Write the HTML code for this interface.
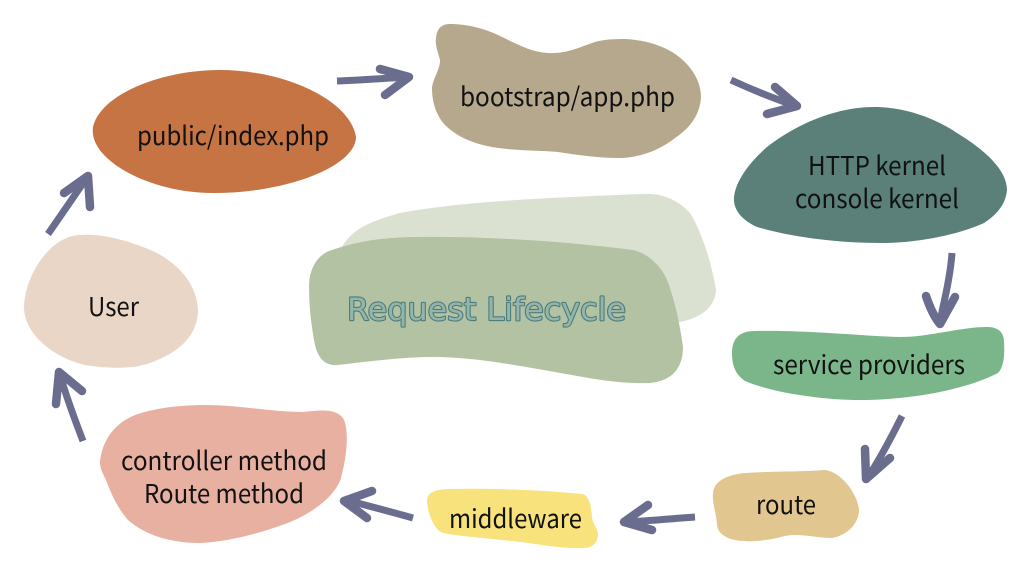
<!DOCTYPE html>
<html>
<head>
<meta charset="utf-8">
<style>
html,body{margin:0;padding:0;background:#fff;width:1024px;height:576px;overflow:hidden}
svg{display:block}
text{font-family:"Noto Sans CJK SC","Liberation Sans",sans-serif;font-size:26px;fill:#111}
.a{fill:none;stroke:#6b6d8f;stroke-width:7;stroke-linecap:butt;stroke-linejoin:round}
.h{fill:none;stroke:#6b6d8f;stroke-width:8.5;stroke-linecap:round;stroke-linejoin:round}
.t1{font-family:"DejaVu Sans","Liberation Sans",sans-serif;font-size:31px;fill:#4f7d7a;stroke:#4f7d7a;stroke-width:2.2px;stroke-linejoin:round}
.t2{font-family:"DejaVu Sans","Liberation Sans",sans-serif;font-size:31px;fill:#93b5ab}
</style>
</head>
<body>
<svg width="1024" height="576" viewBox="0 0 1024 576" xmlns="http://www.w3.org/2000/svg">
<!-- centre blobs -->
<path fill="#dae1d1" d="M342 247C352 228 375 220 400 213C470 200 570 197 643 194C665 193 680 202 690 213C702 232 712 265 716 290C715 308 700 318 680 322L600 300L400 270Z"/>
<path fill="#b3c2a2" d="M309 287C309 268 318 254 332 250C360 240 390 237 417 237C490 236 570 242 633 250C650 254 662 268 667 280C675 300 680 325 683 347C683 368 672 381 650 383C625 384 600 380 583 377C530 368 480 357 433 357C400 357 365 362 337 365C325 366 318 358 315 345C311 325 309 305 309 287Z"/>
<text class="t1" x="347" y="320" textLength="279" lengthAdjust="spacingAndGlyphs">Request Lifecycle</text>
<text class="t2" x="347" y="320" textLength="279" lengthAdjust="spacingAndGlyphs">Request Lifecycle</text>
<!-- public/index.php -->
<path fill="#c77445" d="M93 127C100 95 160 70 220 70C285 70 350 100 356 137C356 165 290 193 213 193C150 193 88 160 93 127Z"/>
<!-- bootstrap -->
<path fill="#b6a88d" d="M436 38C437 28 442 24 450 24C468 24 485 29 498 35C515 43 530 52 548 53C565 54 578 48 592 43C603 39 615 39 625 39C645 40 660 45 672 52C690 63 701 80 701 97C700 115 690 128 675 138C660 150 640 158 618 158C598 158 578 155 558 152C535 150 515 151 492 147C470 143 455 135 445 125C436 115 432 102 432 88C433 78 440 70 440 60C438 52 435 46 436 38Z"/>
<!-- HTTP kernel -->
<path fill="#5a8079" d="M734 197C736 180 750 162 767 147C795 125 835 107 874 107C905 107 935 118 957 133C985 150 1007 170 1007 190C1006 203 998 214 984 223C955 236 915 243 881 243C840 243 795 238 757 227C742 220 733 210 734 197Z"/>
<!-- service providers -->
<path fill="#7bb68a" d="M732 353C732 340 738 331 755 331C810 330 860 336 900 337C930 337 960 327 987 327C998 327 1004 332 1004 342C1005 358 1003 368 998 373C965 390 910 400 860 400C820 400 770 392 745 381C735 374 732 365 732 353Z"/>
<!-- route -->
<path fill="#e1c68f" d="M713 493C714 482 725 475 745 473C775 471 800 472 825 470C842 472 858 495 859 510C859 525 845 536 832 538C815 538 800 533 785 536C770 540 755 542 745 541C730 541 718 535 717 525C716 510 712 505 713 493Z"/>
<!-- middleware -->
<path fill="#f7e27c" d="M427 500C428 492 436 489 450 489C490 488 540 490 583 494C590 497 591 507 592 517C593 525 598 528 598 535C597 544 592 548 583 548C560 549 540 544 520 542C495 539 465 537 443 533C434 530 427 512 427 500Z"/>
<!-- controller -->
<path fill="#e8b0a0" d="M100 462C102 440 115 423 135 415C155 408 180 405 205 405C240 405 270 412 303 412C320 410 338 408 344 420C349 432 347 455 341 478C335 497 310 515 285 524C255 535 225 542 200 543C170 543 145 535 128 520C115 505 110 490 106 480C102 472 100 468 100 462Z"/>
<!-- User -->
<path fill="#ead6c7" d="M24 307C25 275 50 236 80 235C105 233 135 243 155 252C180 265 197 285 198 310C198 335 180 352 150 363C130 370 105 368 85 365C55 358 24 335 24 307Z"/>
<!-- arrows -->
<path class="a" d="M48 234L88 176"/><path class="h" d="M64 193L88 176L90 207"/>
<path class="a" d="M337 81C365 80 390 78 408 77"/><path class="h" d="M380 69L409 77L385 95"/>
<path class="a" d="M731 80C755 91 778 100 796 106"/><path class="h" d="M775 87L797 106L767 114"/>
<path class="a" d="M952 253C950 280 943 305 940 322"/><path class="h" d="M926 296C930 308 935 318 940 324L955 297"/>
<path class="a" d="M902 416C890 440 878 462 868 477"/><path class="h" d="M865 449L866 479L890 458"/>
<path class="a" d="M695 517C668 519 645 521 626 522"/><path class="h" d="M648 505L624 522L652 530"/>
<path class="a" d="M413 518C388 511 365 505 346 500"/><path class="h" d="M372 491L344 501L367 518"/>
<path class="a" d="M83 441C73 415 65 392 60 375"/><path class="h" d="M82 391L59 372L56 404"/>
<!-- labels -->
<text x="137" y="145" textLength="192" lengthAdjust="spacingAndGlyphs">public/index.php</text>
<text x="460" y="106" textLength="215" lengthAdjust="spacingAndGlyphs">bootstrap/app.php</text>
<text x="808" y="175" textLength="138" lengthAdjust="spacingAndGlyphs">HTTP kernel</text>
<text x="795" y="208" textLength="164" lengthAdjust="spacingAndGlyphs">console kernel</text>
<text x="773" y="374" textLength="192" lengthAdjust="spacingAndGlyphs">service providers</text>
<text x="756" y="514" textLength="60" lengthAdjust="spacingAndGlyphs">route</text>
<text x="449" y="528" textLength="133" lengthAdjust="spacingAndGlyphs">middleware</text>
<text x="121" y="470" textLength="206" lengthAdjust="spacingAndGlyphs">controller method</text>
<text x="144" y="503" textLength="160" lengthAdjust="spacingAndGlyphs">Route method</text>
<text x="88" y="316" textLength="51" lengthAdjust="spacingAndGlyphs">User</text>
</svg>
</body>
</html>
